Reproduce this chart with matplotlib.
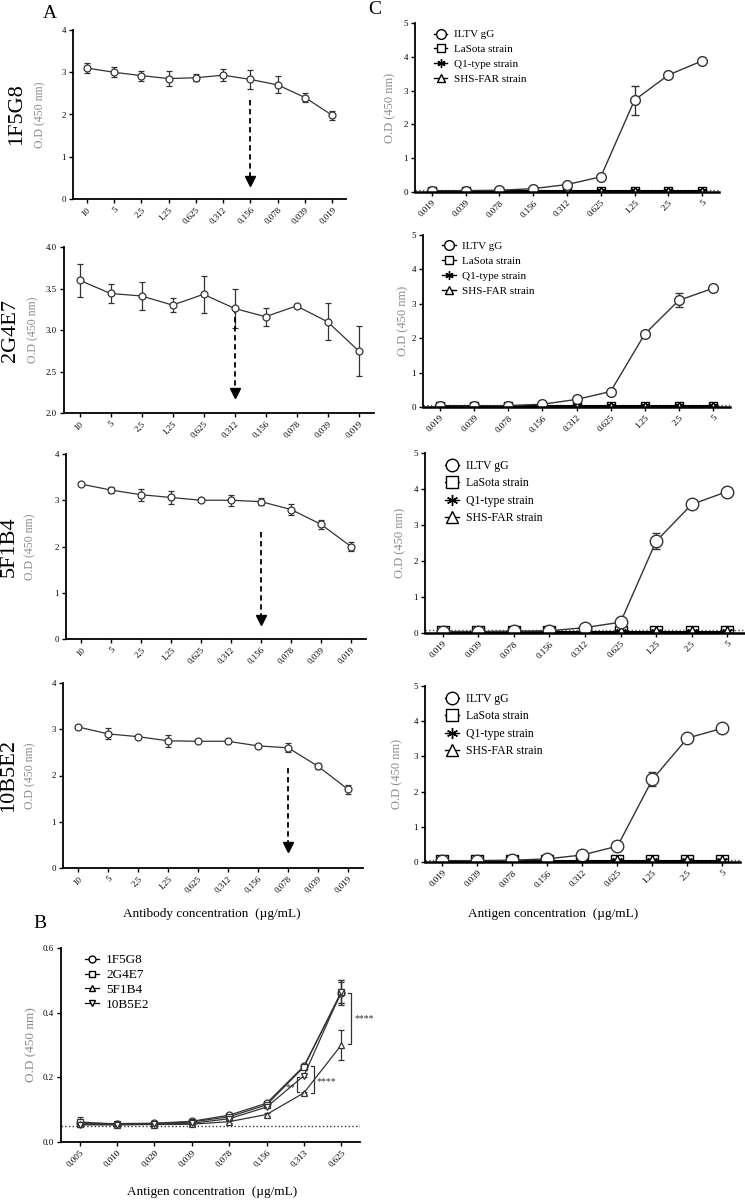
import numpy as np
import matplotlib.pyplot as plt
from matplotlib.lines import Line2D

plt.rcParams['font.family'] = ['Liberation Serif', 'DejaVu Serif']

# ---- Panel A: antibody titration (x categories, high -> low concentration)
ab_conc = ['10', '5', '2,5', '1,25', '0,625', '0,312', '0,156', '0,078', '0,039', '0,019']
a_names = ['1F5G8', '2G4E7', '5F1B4', '10B5E2']
a_mean = [
    [3.10, 3.00, 2.92, 2.85, 2.87, 2.93, 2.83, 2.70, 2.40, 1.98],
    [3.60, 3.44, 3.41, 3.30, 3.43, 3.26, 3.16, 3.29, 3.10, 2.75],
    [3.35, 3.22, 3.12, 3.06, 3.00, 3.00, 2.97, 2.80, 2.48, 2.00],
    [3.05, 2.90, 2.84, 2.75, 2.74, 2.74, 2.64, 2.60, 2.20, 1.70],
]
a_err = [
    [0.12, 0.12, 0.12, 0.18, 0.08, 0.14, 0.23, 0.20, 0.10, 0.10],
    [0.20, 0.12, 0.17, 0.08, 0.22, 0.24, 0.11, 0.02, 0.22, 0.30],
    [0.03, 0.06, 0.13, 0.14, 0.02, 0.12, 0.07, 0.12, 0.10, 0.10],
    [0.02, 0.12, 0.04, 0.13, 0.02, 0.02, 0.02, 0.10, 0.06, 0.10],
]
a_ylim = [(0, 4), (2, 4), (0, 4), (0, 4)]
a_yticks = [[0, 1, 2, 3, 4], [2.0, 2.5, 3.0, 3.5, 4.0], [0, 1, 2, 3, 4], [0, 1, 2, 3, 4]]
a_yticklabels = [['0', '1', '2', '3', '4'], ['2.0', '2.5', '3.0', '3.5', '4.0'],
                 ['0', '1', '2', '3', '4'], ['0', '1', '2', '3', '4']]
# arrow: category index, start value, tip value
a_arrow_idx = [6, 5, 6, 7]
a_arrow_top = [2.34, 3.26, 2.31, 2.16]
a_arrow_tip = [0.42, 2.24, 0.42, 0.45]

# ---- Panel C: antigen specificity
ag_conc = ['0.019', '0.039', '0.078', '0.156', '0.312', '0.625', '1.25', '2.5', '5']
strains = ['ILTV gG', 'LaSota strain', 'Q1-type strain', 'SHS-FAR strain']
c_iltv = [
    [0.03, 0.04, 0.05, 0.10, 0.22, 0.45, 2.72, 3.46, 3.88],
    [0.02, 0.03, 0.04, 0.08, 0.22, 0.45, 2.12, 3.10, 3.45],
    [0.04, 0.04, 0.05, 0.06, 0.15, 0.30, 2.55, 3.57, 3.93],
    [0.03, 0.04, 0.05, 0.09, 0.20, 0.45, 2.35, 3.52, 3.80],
]
c_iltv_err = [
    [0.01, 0.01, 0.01, 0.01, 0.02, 0.02, 0.43, 0.10, 0.02],
    [0.01, 0.01, 0.01, 0.01, 0.02, 0.02, 0.05, 0.20, 0.02],
    [0.01, 0.01, 0.01, 0.01, 0.02, 0.02, 0.22, 0.10, 0.02],
    [0.01, 0.01, 0.01, 0.01, 0.02, 0.02, 0.20, 0.03, 0.02],
]
c_lasota = [0.03, 0.03, 0.03, 0.03, 0.03, 0.03, 0.03, 0.03, 0.03]
c_q1 = [0.03, 0.03, 0.03, 0.03, 0.03, 0.03, 0.03, 0.03, 0.03]
c_shs = [0.04, 0.04, 0.04, 0.04, 0.04, 0.04, 0.04, 0.04, 0.04]
c_cutoff = 0.07

# ---- Panel B: antigen sensitivity
b_conc = ['0,005', '0,010', '0,020', '0,039', '0,078', '0,156', '0,313', '0,625']
b_1f5g8 = [0.058, 0.057, 0.058, 0.064, 0.083, 0.120, 0.235, 0.460]
b_2g4e7 = [0.062, 0.055, 0.057, 0.062, 0.078, 0.115, 0.232, 0.465]
b_5f1b4 = [0.055, 0.054, 0.054, 0.055, 0.063, 0.085, 0.152, 0.300]
b_10b5e2 = [0.053, 0.053, 0.055, 0.058, 0.072, 0.108, 0.205, 0.465]
b_err_last = [0.035, 0.035, 0.045, 0.035]
b_cutoff = 0.05

W, H = 745, 1200
GRAY = '#8c8c8c'
INK = '#333333'


def box(x0, x1, ytop, ybot):
    # pixel box -> figure fraction
    return [x0 / W, 1 - ybot / H, (x1 - x0) / W, (ybot - ytop) / H]


def style(ax, labels, fs):
    for s in ['top', 'right']:
        ax.spines[s].set_visible(False)
    for s in ['left', 'bottom']:
        ax.spines[s].set_linewidth(1.3)
    ax.set_xticks(range(len(labels)))
    ax.set_xticklabels(labels, rotation=45, ha='right', rotation_mode='anchor', fontsize=fs)
    ax.tick_params(direction='out', length=3, width=1, labelsize=fs, pad=2)
    ax.set_xlim(-0.5, len(labels) - 0.5)


def handle(marker, ms, lw=1.0):
    # legend key: short line with open marker, no error bar
    return Line2D([], [], color='black', lw=lw, marker=marker, ms=ms, mfc='white',
                  mec='black', mew=1)


fig = plt.figure(figsize=(W / 100, H / 100), dpi=100)

# ---- Panel A
a_boxes = [(73, 346, 30, 199), (64, 374, 247, 413), (66, 366, 454, 639), (63, 363, 683, 868)]
name_x = [17, 11, 9, 9]
od_x = [40, 33, 30, 30]
x_ab = np.arange(len(ab_conc))
for i in range(4):
    ax = fig.add_axes(box(*a_boxes[i]))
    ax.errorbar(x_ab, a_mean[i], yerr=a_err[i], color=INK, lw=0.9, marker='o', ms=5,
                mfc='white', mec=INK, mew=0.9, capsize=2.5, elinewidth=0.9)
    xi = a_arrow_idx[i]
    ax.plot([xi, xi], [a_arrow_top[i], a_arrow_tip[i]], ls=(0, (3, 2)), color='black', lw=1.3)
    ax.plot(xi, a_arrow_tip[i], marker='v', ms=7, color='black')
    ax.set_ylim(*a_ylim[i])
    ax.set_yticks(a_yticks[i])
    ax.set_yticklabels(a_yticklabels[i])
    style(ax, ab_conc, 6.3)
    yc = 1 - (a_boxes[i][2] + a_boxes[i][3]) / 2 / H
    fig.text(name_x[i] / W, yc, a_names[i], rotation=90, fontsize=16, ha='center', va='center')
    fig.text(od_x[i] / W, yc, 'O.D (450 nm)', rotation=90, fontsize=8.5, color=GRAY,
             ha='center', va='center')

fig.text(50 / W, 1 - 13 / H, 'A', fontsize=14, ha='center', va='center')
fig.text(212 / W, 1 - 914 / H, 'Antibody concentration  (µg/mL)', fontsize=9.5,
         ha='center', va='center')

# ---- Panel C
c_boxes = [(415, 719, 23, 192), (423, 730, 235, 407), (425, 745, 453, 633), (425, 740, 686, 862)]
c_od_x = [390, 403, 400, 397]
c_ms = [7, 7, 9, 9]
c_leg_fs = [8, 8, 8.5, 8.5]
x_ag = np.arange(len(ag_conc))
for i in range(4):
    ax = fig.add_axes(box(*c_boxes[i]))
    ax.axhline(c_cutoff, color='#555555', ls=':', lw=1)
    ms = c_ms[i]
    ax.plot(x_ag, c_lasota, color='black', lw=2, marker='s', ms=ms - 1, mfc='white',
            mec='black', mew=1)
    ax.plot(x_ag, c_q1, color='black', lw=2, marker=(6, 2, 0), ms=ms - 1, mec='black',
            mew=1.2)
    ax.plot(x_ag, c_shs, color='black', lw=2, marker='^', ms=ms - 1, mfc='white',
            mec='black', mew=1)
    ax.errorbar(x_ag, c_iltv[i], yerr=c_iltv_err[i], color=INK, lw=1, marker='o', ms=ms,
                mfc='white', mec=INK, mew=1, capsize=3, elinewidth=1)
    ax.set_ylim(0, 5)
    ax.set_yticks([0, 1, 2, 3, 4, 5])
    style(ax, ag_conc, 6.5)
    ax.spines['bottom'].set_linewidth(1.8)
    hs = [handle('o', ms), handle('s', ms - 1), handle((6, 2, 0), ms - 1), handle('^', ms - 1)]
    ax.legend(hs, strains, loc='upper left', bbox_to_anchor=(0.03, 1.02), frameon=False,
              fontsize=c_leg_fs[i], handlelength=1.2, handletextpad=0.6, labelspacing=0.45)
    yc = 1 - (c_boxes[i][2] + c_boxes[i][3]) / 2 / H
    fig.text(c_od_x[i] / W, yc, 'O.D (450 nm)', rotation=90, fontsize=9, color=GRAY,
             ha='center', va='center')

fig.text(375 / W, 1 - 9 / H, 'C', fontsize=14, ha='center', va='center')
fig.text(553 / W, 1 - 914 / H, 'Antigen concentration  (µg/mL)', fontsize=9.5,
         ha='center', va='center')

# ---- Panel B
ax = fig.add_axes(box(61, 360, 948, 1142))
x_b = np.arange(len(b_conc))
ax.axhline(b_cutoff, color=INK, ls=':', lw=1)
b_series = [b_1f5g8, b_2g4e7, b_5f1b4, b_10b5e2]
b_labels = ['1F5G8', '2G4E7', '5F1B4', '10B5E2']
b_markers = ['o', 's', '^', 'v']
for k in range(4):
    err = [0.004] * (len(b_conc) - 1) + [b_err_last[k]]
    if k == 1:
        err[0] = 0.015
    ax.errorbar(x_b, b_series[k], yerr=err, color=INK, lw=0.9, marker=b_markers[k],
                ms=5, mfc='white', mec=INK, mew=0.9, capsize=2.5, elinewidth=0.9)
# significance brackets
br = dict(color=INK, lw=0.9, clip_on=False)
ax.plot([7.18, 7.26, 7.26, 7.18], [0.460, 0.460, 0.303, 0.303], **br)
ax.text(7.34, 0.383, '****', fontsize=7, va='center', ha='left', color=INK)
ax.plot([6.18, 6.27, 6.27, 6.18], [0.236, 0.236, 0.153, 0.153], **br)
ax.text(6.34, 0.186, '****', fontsize=7, va='center', ha='left', color=INK)
ax.plot([5.88, 5.81, 5.81, 5.88], [0.201, 0.201, 0.155, 0.155], **br)
ax.text(5.77, 0.168, '**', fontsize=7, va='center', ha='right', color=INK)
ax.set_ylim(0, 0.6)
ax.set_yticks([0, 0.2, 0.4, 0.6])
ax.set_yticklabels(['0.0', '0.2', '0.4', '0.6'])
style(ax, b_conc, 6.5)
ax.set_ylabel('O.D (450 nm)', fontsize=9.5, color=GRAY, labelpad=4)
ax.legend([handle(m, 5, 0.9) for m in b_markers], b_labels, loc='upper left',
          bbox_to_anchor=(0.04, 1.03), frameon=False, fontsize=9.5,
          handlelength=1.1, handletextpad=0.5, labelspacing=0.2)
fig.text(40 / W, 1 - 923 / H, 'B', fontsize=14, ha='center', va='center')
fig.text(212 / W, 1 - 1192 / H, 'Antigen concentration  (µg/mL)', fontsize=9.5,
         ha='center', va='center')

fig.savefig('out.png', dpi=100)
